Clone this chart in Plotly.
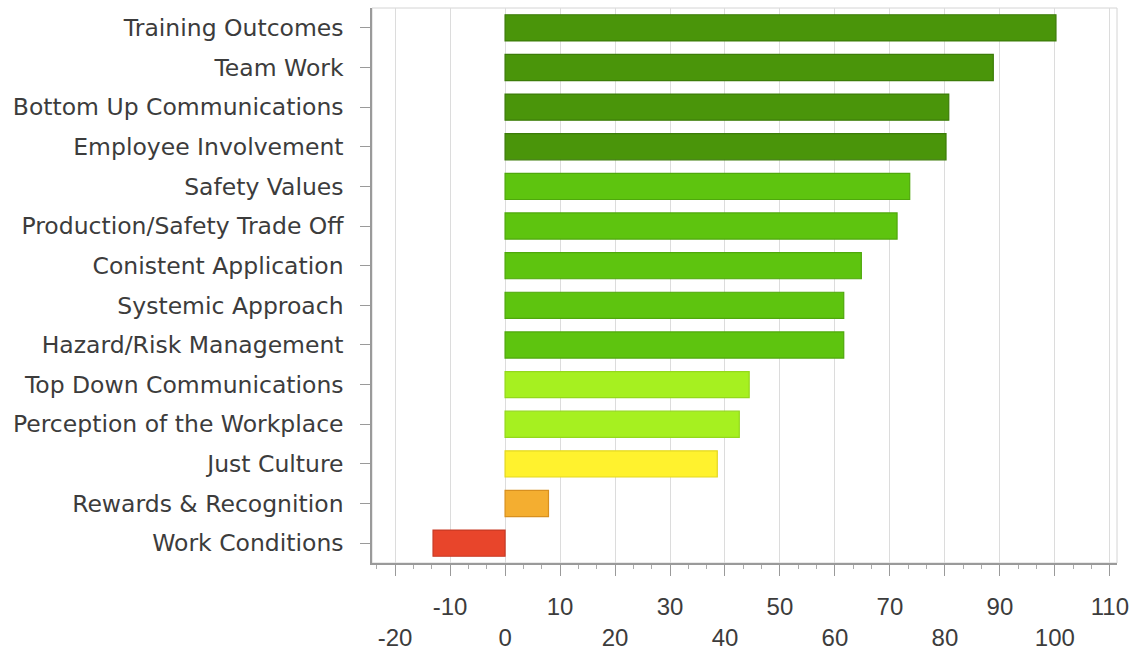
import plotly.graph_objects as go

categories = [
    "Training Outcomes", "Team Work", "Bottom Up Communications",
    "Employee Involvement", "Safety Values", "Production/Safety Trade Off",
    "Conistent Application", "Systemic Approach", "Hazard/Risk Management",
    "Top Down Communications", "Perception of the Workplace", "Just Culture",
    "Rewards & Recognition", "Work Conditions",
]
values = [100.2, 88.8, 80.7, 80.2, 73.6, 71.3, 64.8, 61.6, 61.6, 44.4, 42.6, 38.6, 7.9, -13.1]
groups = ["dark", "dark", "dark", "dark", "mid", "mid", "mid", "mid", "mid",
          "light", "light", "yellow", "orange", "red"]

tick_values = list(range(-20, 111, 10))
tick_labels = [str(v) if (v // 10) % 2 != 0 else "<br>" + str(v) for v in tick_values]

fill = {"dark": "#4a950a", "mid": "#5ec40f", "light": "#a6f020",
        "yellow": "#fff22e", "orange": "#f4ae30", "red": "#e8452b"}
edge = {"dark": "#3c7c08", "mid": "#4fa80c", "light": "#94d81c",
        "yellow": "#e3d722", "orange": "#d8901f", "red": "#c83a25"}

fig = go.Figure(go.Bar(
    y=categories, x=values, orientation="h",
    marker=dict(color=[fill[g] for g in groups],
                line=dict(color=[edge[g] for g in groups], width=1.2)),
))

fig.update_layout(
    width=1138, height=659,
    margin=dict(l=372, r=21, t=8, b=90),
    paper_bgcolor="white", plot_bgcolor="white",
    bargap=0.34,
    showlegend=False,
    font=dict(family="Liberation Sans, Arial, sans-serif", size=24, color="#3c3c3c"),
    shapes=[dict(type="rect", xref="paper", yref="paper", x0=0, x1=1, y0=0, y1=1,
                 line=dict(color="#d4d4d4", width=1), layer="below")],
)
fig.update_xaxes(
    range=[-24.2, 111.3],
    tickmode="array", tickvals=tick_values, ticktext=tick_labels,
    showgrid=True, gridcolor="#dcdcdc", gridwidth=1,
    zeroline=False,
    showline=True, linecolor="#9a9a9a", linewidth=1.5,
    ticks="outside", ticklen=11, tickcolor="#9a9a9a", tickwidth=1,
    minor=dict(dtick=10/3, tick0=0, ticks="outside", ticklen=4, tickcolor="#aaaaaa", showgrid=False),
    ticklabelstandoff=10,
    tickfont=dict(family="Liberation Sans, Arial, sans-serif", size=24, color="#3c3c3c"),
)
fig.update_yaxes(
    categoryorder="array", categoryarray=categories, autorange="reversed",
    showgrid=False, zeroline=False,
    showline=True, linecolor="#9a9a9a", linewidth=1.5,
    ticks="outside", ticklen=10, tickcolor="#9a9a9a",
    ticklabelstandoff=12,
    tickfont=dict(family="DejaVu Sans, Verdana, sans-serif", size=23.5, color="#3c3c3c"),
)

fig.write_html("out.html")
